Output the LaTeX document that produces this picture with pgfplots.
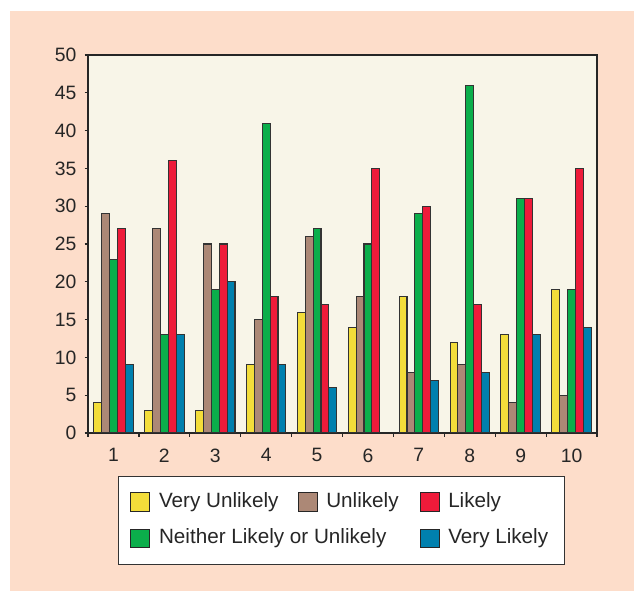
\documentclass[border=0pt]{standalone}
\usepackage{pgfplots}
\pgfplotsset{compat=1.18}
\usepackage{fontspec}
\setmainfont{Liberation Sans}
\definecolor{peach}{HTML}{FDDDCA}
\definecolor{cream}{HTML}{F8F5E8}
\definecolor{cVU}{HTML}{F3DD3A}
\definecolor{cU}{HTML}{AC8876}
\definecolor{cN}{HTML}{0BAE4B}
\definecolor{cL}{HTML}{EE1B3A}
\definecolor{cVL}{HTML}{0080AE}
\begin{document}
\begin{tikzpicture}
\fill[white] (0,0) rectangle (475.5pt,443.25pt);
\fill[peach] (7.5pt,0) rectangle (475.5pt,435pt);
\begin{axis}[
  at={(66pt,118.5pt)}, anchor=south west,
  scale only axis, width=381.75pt, height=283.5pt,
  xmin=0.5, xmax=10.5, ymin=0, ymax=50,
  axis background/.style={fill=cream},
  axis line style={black!85, line width=1.1pt},
  xtick={1,...,10}, minor xtick={0.5,1.5,...,10.5},
  ytick={0,5,...,50},
  xtick pos=bottom, ytick pos=left,
  tick align=outside,
  major tick length=2.5pt, minor tick length=3pt,
  major x tick style={draw=none},
  tick style={black!85, line width=0.9pt},
  minor x tick style={black!85, line width=0.9pt},
  /pgf/number format/assume math mode=true,
  ticklabel style={font=\fontsize{14.5}{16}\selectfont, text=black!85},
  xticklabel style={inner ysep=0pt, yshift=-9pt},
  yticklabel style={inner xsep=0pt, xshift=-6pt},
  bar width=0.155,
  legend image code/.code={\draw[#1] (0pt,-7pt) rectangle (14.25pt,7pt);},
  legend columns=3,
  legend style={at={(0.0589,-0.1138)}, anchor=north west,
    draw=black!80, fill=white, line width=0.7pt,
    inner xsep=9pt, inner ysep=12pt,
    font=\fontsize{15.5}{17}\selectfont, text=black!85,
    nodes={inner sep=0pt, text height=10.5pt, text depth=3pt},
    row sep=12.5pt,
    /tikz/every odd column/.style={column sep=6.5pt},
    /tikz/every even column/.style={column sep=0pt}},
  legend cell align=left,
]
\addlegendimage{fill=cVU, draw=black!85, line width=0.7pt}
\addlegendentry{\makebox[104pt][l]{Very Unlikely}}
\addlegendimage{fill=cU, draw=black!85, line width=0.7pt}
\addlegendentry{\makebox[70pt][l]{Unlikely}}
\addlegendimage{fill=cL, draw=black!85, line width=0.7pt}
\addlegendentry{\makebox[78pt][l]{Likely}}
\addlegendimage{fill=cN, draw=black!85, line width=0.7pt}
\addlegendentry{\makebox[104pt][l]{Neither Likely or Unlikely}}
\addlegendimage{empty legend}
\addlegendentry{\makebox[70pt][l]{}}
\addlegendimage{fill=cVL, draw=black!85, line width=0.7pt}
\addlegendentry{\makebox[78pt][l]{Very Likely}}

\addplot[ybar, forget plot, bar shift=-0.31, fill=cVU, draw=black!80, line width=0.8pt]
  coordinates {(1,4) (2,3) (3,3) (4,9) (5,16) (6,14) (7,18) (8,12) (9,13) (10,19)};
\addplot[ybar, forget plot, bar shift=-0.155, fill=cU, draw=black!80, line width=0.8pt]
  coordinates {(1,29) (2,27) (3,25) (4,15) (5,26) (6,18) (7,8) (8,9) (9,4) (10,5)};
\addplot[ybar, forget plot, bar shift=0, fill=cN, draw=black!80, line width=0.8pt]
  coordinates {(1,23) (2,13) (3,19) (4,41) (5,27) (6,25) (7,29) (8,46) (9,31) (10,19)};
\addplot[ybar, forget plot, bar shift=0.155, fill=cL, draw=black!80, line width=0.8pt]
  coordinates {(1,27) (2,36) (3,25) (4,18) (5,17) (6,35) (7,30) (8,17) (9,31) (10,35)};
\addplot[ybar, forget plot, bar shift=0.31, fill=cVL, draw=black!80, line width=0.8pt]
  coordinates {(1,9) (2,13) (3,20) (4,9) (5,6) (7,7) (8,8) (9,13) (10,14)};
\end{axis}
\end{tikzpicture}
\end{document}
